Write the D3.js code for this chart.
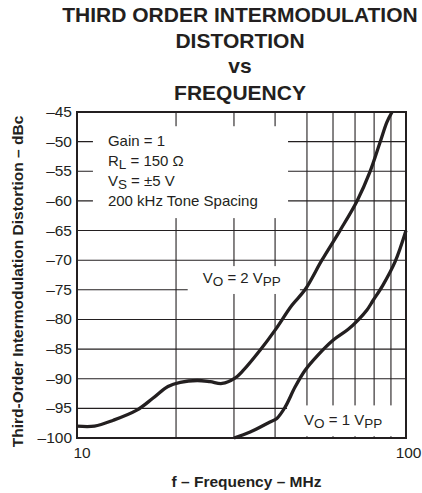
<!DOCTYPE html>
<html>
<head>
<meta charset="utf-8">
<script src="https://cdn.jsdelivr.net/npm/d3@7"></script>
<style>
  html, body { margin: 0; padding: 0; background: #fff; }
  text { font-family: "Liberation Sans", Arial, Helvetica, sans-serif; fill: #231f20; }
</style>
</head>
<body>
<svg id="chart" width="422" height="493"></svg>
<script>
// ---- data ----
const titleLines = ["THIRD ORDER INTERMODULATION", "DISTORTION", "vs", "FREQUENCY"];
const yTicks = [-45, -50, -55, -60, -65, -70, -75, -80, -85, -90, -95, -100];
const xGrid = [20, 30, 40, 50, 60, 70, 80, 90];
const xTickLabels = [10, 100];

// V_O = 2 Vpp curve
const freq2 = [10.0, 11.3, 12.9, 15.2, 17.0, 18.9, 20.6, 23.2, 25.4, 27.6, 30.2, 32.0, 36.0, 40.0, 45.0, 49.3, 55.5, 63.0, 71.0, 77.7, 83.4, 87.5, 90.7];
const dist2 = [-98.0, -98.0, -97.0, -95.3, -93.3, -91.3, -90.6, -90.3, -90.5, -90.8, -89.9, -88.6, -85.2, -81.8, -77.6, -75.0, -70.0, -65.0, -60.0, -55.1, -50.1, -46.7, -45.0];

// V_O = 1 Vpp curve
const freq1 = [30.0, 33.6, 38.6, 40.5, 42.9, 46.0, 49.3, 54.0, 60.0, 66.6, 71.5, 76.1, 79.4, 85.1, 92.6, 100];
const dist1 = [-100.0, -99.0, -97.3, -96.7, -94.8, -91.4, -88.6, -86.0, -83.5, -81.7, -80.1, -78.4, -76.8, -74.2, -70.3, -65.0];

const legendLines = [
  [{t: "Gain = 1"}],
  [{t: "R"}, {t: "L", sub: true}, {t: " = 150 Ω"}],
  [{t: "V"}, {t: "S", sub: true}, {t: " = ±5 V"}],
  [{t: "200 kHz Tone Spacing"}]
];
const label2 = [{t: "V"}, {t: "O", sub: true}, {t: " = 2 V"}, {t: "PP", sub: true}];
const label1 = [{t: "V"}, {t: "O", sub: true}, {t: " = 1 V"}, {t: "PP", sub: true}];

// white annotation boxes in data units [f0, f1, d0, d1]
const legendBox = [11.18, 43.8, -47.4, -62.9];
const box2 = [21.7, 47.6, -71.0, -75.7];
const box1 = [43.5, 100, -94.5, -99.7];

// ---- drawing ----
const svg = d3.select("#chart");
const x = d3.scaleLog().domain([10, 100]).range([77, 406]);
const y = d3.scaleLinear().domain([-100, -45]).range([438, 112]);

// title
svg.append("g").selectAll("text").data(titleLines).join("text")
  .attr("x", 240)
  .attr("y", (d, i) => [21.7, 48, 73, 100][i])
  .attr("text-anchor", "middle")
  .style("font-size", "21px").style("font-weight", "bold")
  .text(d => d);

// grid
const grid = svg.append("g").attr("stroke", "#231f20").attr("stroke-width", 1.1);
grid.selectAll("line.v").data(xGrid).join("line")
  .attr("x1", d => x(d)).attr("x2", d => x(d))
  .attr("y1", y(-45)).attr("y2", y(-100));
grid.selectAll("line.h").data(yTicks.filter(d => d > -100 && d < -45)).join("line")
  .attr("x1", x(10)).attr("x2", x(100))
  .attr("y1", d => y(d)).attr("y2", d => y(d));

// white boxes
function box(b) {
  svg.append("rect")
    .attr("x", x(b[0])).attr("y", y(b[2]))
    .attr("width", x(b[1]) - x(b[0])).attr("height", y(b[3]) - y(b[2]))
    .attr("fill", "#fff");
}
box(legendBox); box(box2); box(box1);

// curves
const line = d3.line().x(d => x(d[0])).y(d => y(d[1])).curve(d3.curveCatmullRom.alpha(0.5));
const c2 = freq2.map((f, i) => [f, dist2[i]]);
const c1 = freq1.map((f, i) => [f, dist1[i]]);
svg.append("g").selectAll("path").data([c2, c1]).join("path")
  .attr("d", line)
  .attr("fill", "none").attr("stroke", "#231f20")
  .attr("stroke-width", 3.3).attr("stroke-linejoin", "round").attr("stroke-linecap", "butt");

// frame
svg.append("rect")
  .attr("x", x(10)).attr("y", y(-45))
  .attr("width", x(100) - x(10)).attr("height", y(-100) - y(-45))
  .attr("fill", "none").attr("stroke", "#231f20").attr("stroke-width", 2);

// y tick labels
svg.append("g").selectAll("text").data(yTicks).join("text")
  .attr("x", 72).attr("y", d => y(d) + 5)
  .attr("text-anchor", "end")
  .style("font-size", "15.5px")
  .text(d => "–" + Math.abs(d));

// x tick labels
svg.append("g").selectAll("text").data(xTickLabels).join("text")
  .attr("x", (d, i) => i === 0 ? x(d) + 5 : x(d) + 15.5)
  .attr("y", 458)
  .attr("text-anchor", (d, i) => i === 0 ? "middle" : "end")
  .style("font-size", "15.5px")
  .text(d => d);

// axis titles
svg.append("text")
  .attr("x", 246.5).attr("y", 487)
  .attr("text-anchor", "middle")
  .style("font-size", "15.5px").style("font-weight", "bold")
  .text("f – Frequency – MHz");
svg.append("text")
  .attr("transform", "translate(23,281.5) rotate(-90)")
  .attr("text-anchor", "middle")
  .style("font-size", "15.5px").style("font-weight", "bold")
  .text("Third-Order Intermodulation Distortion – dBc");

// rich text helper
function rich(parts, px, py) {
  const t = svg.append("text").attr("x", px).attr("y", py).style("font-size", "15px");
  let down = false;
  parts.forEach(p => {
    const ts = t.append("tspan").text(p.t);
    if (p.sub && !down) { ts.attr("dy", 3).style("font-size", "13.5px"); down = true; }
    else if (p.sub) { ts.style("font-size", "13.5px"); }
    else if (down) { ts.attr("dy", -3); down = false; }
  });
  return t;
}

legendLines.forEach((l, i) => rich(l, x(legendBox[0]) + 15, y(legendBox[2]) + 20 + i * 19.9));
rich(label2, x(box2[0]) + 15, y(box2[2]) + 17);
rich(label1, x(box1[0]) + 17, y(box1[2]) + 20);
</script>
</body>
</html>
